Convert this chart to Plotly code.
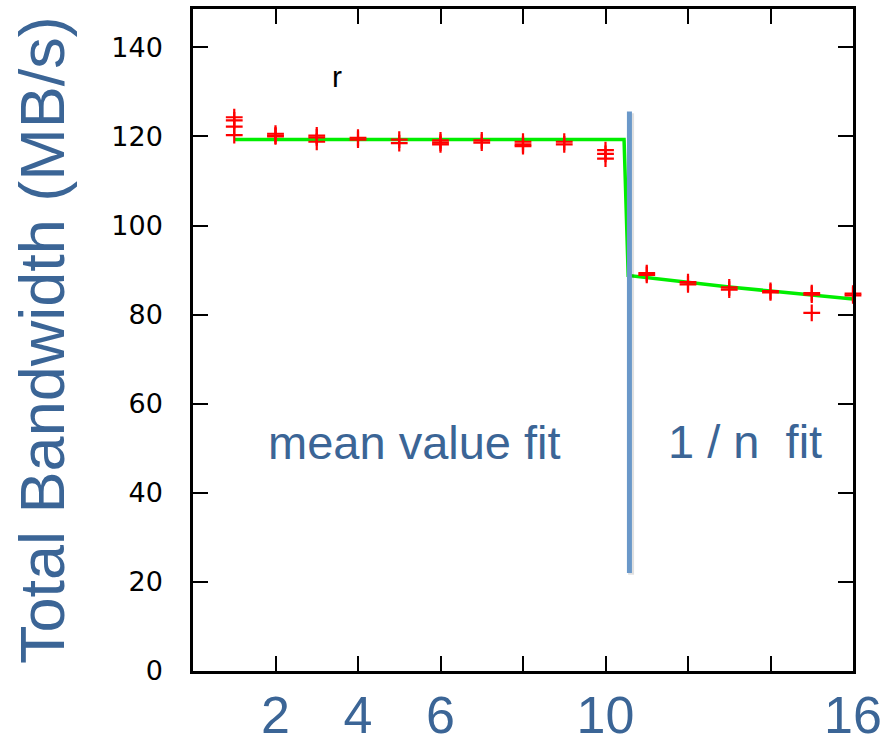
import plotly.graph_objects as go

# Measured data: several runs per process count
n_procs = [1, 2, 3, 4, 5, 6, 7, 8, 9, 10, 11, 12, 13, 14, 15, 16]
bandwidth_runs = [
    [124.3, 123.6, 122.2, 120.3],
    [120.6, 120.2, 120.0],
    [120.2, 119.8, 118.8],
    [119.7, 119.3],
    [119.3, 118.5],
    [119.1, 118.6, 118.2],
    [119.1, 118.6],
    [118.8, 118.2, 117.8],
    [118.8, 118.2],
    [116.9, 116.1, 115.0],
    [89.3, 88.9],
    [87.3, 86.8],
    [86.1, 85.6],
    [85.3, 85.0],
    [84.8, 84.5, 80.4],
    [84.7, 84.3],
]

# Fit curve (mean value fit, then 1/n fit)
fit_x = [1, 10.45, 10.55, 12, 13, 14, 16]
fit_y = [119.3, 119.3, 88.8, 87.2, 86.2, 85.3, 83.5]

# Separator
sep_x = 10.58
sep_y = [22.0, 125.6]

x_tickvals = [0, 2, 4, 6, 8, 10, 12, 14, 16]
x_ticktext = ["", "2", "4", "6", "", "10", "", "", "16"]
y_tickvals = [0, 20, 40, 60, 80, 100, 120, 140]

pts_x, pts_y = [], []
for n, runs in zip(n_procs, bandwidth_runs):
    for v in runs:
        pts_x.append(n)
        pts_y.append(v)

BLUE = "#3b6596"

fig = go.Figure()
fig.add_trace(go.Scatter(
    x=fit_x, y=fit_y, mode="lines",
    line=dict(color="#00ee00", width=3.5),
    showlegend=False, cliponaxis=False))
fig.add_trace(go.Scatter(
    x=pts_x, y=pts_y, mode="markers",
    marker=dict(symbol="cross-thin", size=12, color="red",
                line=dict(color="red", width=2.2)),
    showlegend=False, cliponaxis=False))

fig.add_shape(type="line", x0=sep_x + 0.04, x1=sep_x + 0.04, y0=sep_y[0] - 0.4, y1=sep_y[1] - 0.4,
              xref="x", yref="y", line=dict(color="rgba(0,0,0,0.12)", width=6))
fig.add_shape(type="line", x0=sep_x, x1=sep_x, y0=sep_y[0], y1=sep_y[1],
              xref="x", yref="y", line=dict(color="#6a98c9", width=5))

fig.add_annotation(x=5.37, y=51.2, text="mean value fit", showarrow=False,
                   font=dict(family="Liberation Sans, Arial", size=47, color=BLUE))
fig.add_annotation(x=13.38, y=51.6, text="1 / n\u00a0 fit", showarrow=False,
                   font=dict(family="Liberation Sans, Arial", size=47, color=BLUE))
fig.add_annotation(x=3.48, y=133.5, text="r", showarrow=False,
                   font=dict(family="Liberation Sans, Arial", size=30, color="black"))
fig.add_annotation(xref="paper", yref="paper", x=(42 - 193) / 660, y=0.5,
                   xanchor="center", yanchor="middle",
                   text="Total Bandwidth (MB/s)", textangle=-90, showarrow=False,
                   font=dict(family="Liberation Sans, Arial", size=63, color=BLUE))

fig.update_xaxes(range=[0, 16], tickvals=x_tickvals, ticktext=x_ticktext,
                 ticks="inside", ticklen=15, tickwidth=2, tickcolor="black",
                 showline=True, linecolor="black", linewidth=2.5, mirror="ticks",
                 showgrid=False, zeroline=False, automargin=False,
                 ticklabeloverflow="allow",
                 tickfont=dict(family="Liberation Sans, Arial", size=52, color=BLUE),
                 ticklabelstandoff=-3)
fig.update_yaxes(range=[0, 148.6], tickvals=y_tickvals,
                 ticks="inside", ticklen=15, tickwidth=2, tickcolor="black",
                 showline=True, linecolor="black", linewidth=2.5, mirror="ticks",
                 showgrid=False, zeroline=False, automargin=False,
                 tickfont=dict(family="DejaVu Sans, Arial", size=27, color="black"),
                 ticklabelstandoff=22)

fig.update_layout(width=881, height=748,
                  margin=dict(l=193, r=28, t=9, b=77),
                  plot_bgcolor="white", paper_bgcolor="white")

fig.write_html("out.html")
